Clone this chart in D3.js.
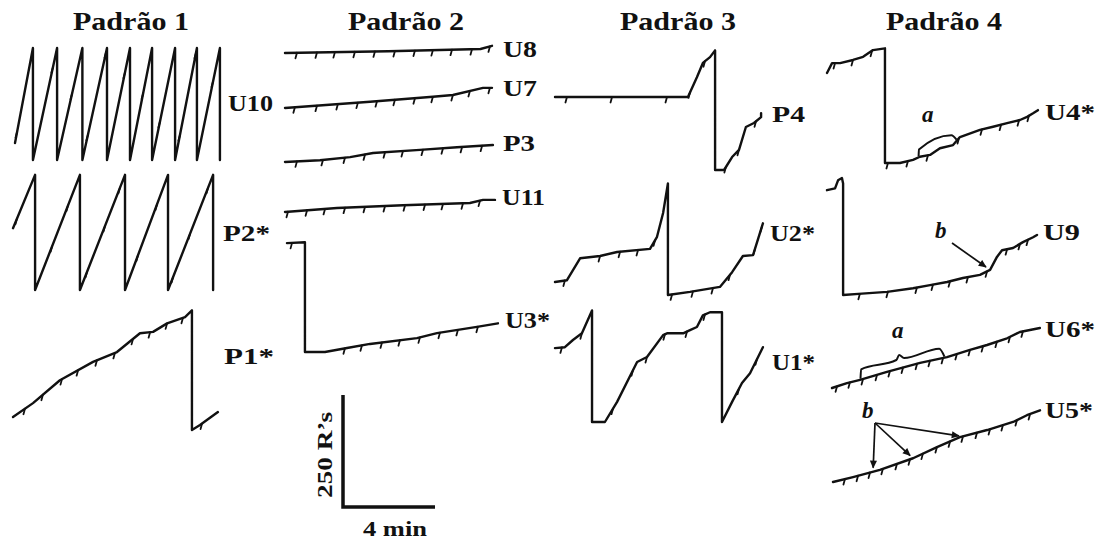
<!DOCTYPE html>
<html><head><meta charset="utf-8">
<script src="https://cdn.jsdelivr.net/npm/d3@7"></script>
<style>body{margin:0;background:#fff}svg{display:block}</style>
</head><body>
<svg id="chart" width="1099" height="540"></svg>
<script>
// Cumulative records: [minutes, cumulative responses since last pen reset].
// Equal consecutive times mark the vertical pen reset.
const U10 = [[0,38],[0.78,250],[0.78,0],[1.83,250],[1.83,0],[2.93,250],[2.93,0],[4.0,250],[4.0,0],[5.0,250],[5.0,0],[5.96,250],[5.96,0],[6.96,250],[6.96,0],[7.91,250],[7.91,0],[8.91,250],[8.91,0]];
const U10_sr = [0.09,1.65,2.48,3.17,3.96,4.78,5.57,6.30,7.17,7.87,8.61];
const P2 = [[0,138],[0.96,257],[0.96,0],[2.91,257],[2.91,0],[4.87,257],[4.87,0],[6.74,257],[6.74,0],[8.70,257],[8.70,0]];
const P2_sr = [0.17,1.70,2.39,3.22,4.0,4.65,5.43,6.26,6.96,7.70,8.48];
const P1 = [[0,29],[0.87,60],[2.04,111],[3.48,152],[4.52,174],[5.52,216],[6.09,219],[6.70,238],[7.48,252],[7.78,267],[7.78,0],[8.13,11],[8.91,40]];
const P1_sr = [0.52,1.30,2.13,2.83,3.65,4.43,5.22,5.96,6.70,7.39,8.22];

const U8 = [[0,0],[4.5,4],[8.5,9],[9.0,16]];
const U8_sr = [0.52,1.39,2.17,3.04,3.91,4.78,5.65,6.43,7.26,8.13,8.91];
const U7 = [[0,0],[3.70,14],[6.43,25],[7.30,29],[8.61,45],[9.0,45]];
const U7_sr = [0.43,1.39,2.30,3.17,4.0,4.78,5.65,6.43,7.30,8.04,8.91];
const P3 = [[0,0],[1.52,4],[2.83,11],[3.83,20],[5.87,27],[7.48,33],[9.04,38]];
const P3_sr = [0.52,1.65,2.61,3.48,4.35,5.13,6.0,6.87,7.70,8.57];
const U11 = [[0,0],[2.26,9],[5.13,15],[8.04,20],[8.61,27],[9.13,27]];
const U11_sr = [0.13,0.96,1.74,2.61,3.48,4.35,5.22,6.09,6.87,7.74,8.48];
const U3 = [[0,243],[0.78,245],[0.78,0],[1.65,0],[2.61,9],[3.61,18],[5.65,31],[6.52,42],[8.26,56],[9.17,64]];
const U3_sr = [0.22,2.52,3.26,4.13,4.91,5.78,6.65,7.43,8.30];

const P4 = [[0,163],[5.78,163],[6.17,207],[6.43,239],[6.74,252],[6.96,267],[6.96,0],[7.35,0],[7.70,29],[8.0,45],[8.30,96],[8.65,105],[8.96,118],[8.96,127]];
const P4_sr = [0.52,2.48,4.87,5.87,6.52,7.43,8.0,8.74];
const U2 = [[0,29],[0.52,33],[1.09,82],[1.96,87],[2.70,96],[4.13,103],[4.43,129],[4.70,183],[4.91,249],[4.91,0],[5.87,7],[7.17,18],[7.70,51],[8.17,87],[8.61,89],[9.04,160]];
const U2_sr = [0.43,1.96,2.83,3.61,4.35,5.09,6.0,6.87,7.61,8.70,9.0];
const U1 = [[0,165],[0.43,167],[0.78,183],[1.17,198],[1.61,249],[1.61,0],[2.17,0],[2.70,45],[3.57,134],[4.0,145],[4.70,194],[4.87,198],[5.57,198],[5.87,205],[6.17,212],[6.43,238],[6.74,245],[7.26,245],[7.26,0],[7.70,45],[8.13,87],[8.48,109],[9.04,167]];
const U1_sr = [0.30,1.17,2.52,3.39,4.0,4.78,5.74,6.52,8.0,8.78];

const U4 = [[0,201],[0.22,223],[0.57,223],[1.13,230],[1.57,237],[2.0,252],[2.52,256],[2.52,0],[3.17,0],[3.74,7],[4.04,14],[4.48,18],[4.91,33],[5.48,40],[5.78,58],[6.65,74],[7.22,81],[7.83,89],[8.39,96],[8.70,103],[8.96,111],[9.17,118]];
const U4_sr = [0.35,1.13,1.96,2.65,3.52,4.39,5.74,6.74,7.57,8.35,8.78];
const U9 = [[0,234],[0.35,238],[0.48,256],[0.65,261],[0.70,249],[0.70,0],[1.52,3],[2.61,7],[3.74,15],[4.48,22],[5.22,29],[5.91,38],[6.65,45],[7.09,56],[7.39,85],[7.61,100],[8.09,105],[8.52,118],[8.96,129],[9.13,134]];
const U9_sr = [1.43,2.65,3.91,4.61,5.35,6.13,6.96,7.83,8.39,8.74];
const U6 = [[0,0],[0.65,11],[1.22,18],[2.39,36],[3.83,56],[5.0,69],[6.0,85],[6.74,96],[7.61,111],[8.17,125],[9.04,134]];
const U6_sr = [0.22,0.78,1.35,1.96,2.52,3.09,3.70,4.26,4.83,5.43,6.0,6.57,7.17,7.74,8.30];
const U5 = [[0,0],[0.87,11],[2.04,27],[3.48,53],[4.52,78],[5.52,100],[6.70,116],[7.83,134],[8.43,149],[9.0,160]];
const U5_sr = [0.52,1.09,1.61,2.17,2.78,3.35,3.91,4.52,5.09,5.65,6.26,6.83,7.39,8.0,8.57];

const panelTitles = ["Padrão 1","Padrão 2","Padrão 3","Padrão 4"];
const scaleMinutes = 4, scaleResponses = 250;

// sheet placement of each record (left edge, pen baseline) and its label
const records = [
  {name:"U10", pts:U10, sr:U10_sr, at:[15,160], lab:[228,111,45]},
  {name:"P2*", pts:P2,  sr:P2_sr,  at:[13,290], lab:[223,241,47]},
  {name:"P1*", pts:P1,  sr:P1_sr,  at:[13,430], lab:[224,364,50]},
  {name:"U8",  pts:U8,  sr:U8_sr,  at:[285,53], lab:[503,57,34]},
  {name:"U7",  pts:U7,  sr:U7_sr,  at:[285,108],lab:[503,96,34]},
  {name:"P3",  pts:P3,  sr:P3_sr,  at:[285,162],lab:[503,151,32]},
  {name:"U11", pts:U11, sr:U11_sr, at:[285,212],lab:[502,205,43]},
  {name:"U3*", pts:U3,  sr:U3_sr,  at:[287,352],lab:[505,328,45]},
  {name:"P4",  pts:P4,  sr:P4_sr,  at:[555,170],lab:[772,122,33]},
  {name:"U2*", pts:U2,  sr:U2_sr,  at:[555,295],lab:[770,241,45]},
  {name:"U1*", pts:U1,  sr:U1_sr,  at:[555,422],lab:[772,370,43]},
  {name:"U4*", pts:U4,  sr:U4_sr,  at:[827,163],lab:[1045,120,50]},
  {name:"U9",  pts:U9,  sr:U9_sr,  at:[827,295],lab:[1043,240,37]},
  {name:"U6*", pts:U6,  sr:U6_sr,  at:[832,388],lab:[1045,337,50]},
  {name:"U5*", pts:U5,  sr:U5_sr,  at:[833,482],lab:[1045,418,48]}
];
const titlePos = [[131,30],[406,30],[678,30],[944,30]];

const svg = d3.select("#chart");
const x = d3.scaleLinear().domain([0, scaleMinutes]).range([0, 92]);
const y = d3.scaleLinear().domain([0, scaleResponses]).range([0, -112]);
const line = d3.line().x(d => x(d[0])).y(d => y(d[1]));
const serif = "Liberation Serif";

svg.append("defs").append("marker")
  .attr("id","head").attr("viewBox","0 0 10 10").attr("refX",9).attr("refY",5)
  .attr("markerWidth",9).attr("markerHeight",8).attr("markerUnits","userSpaceOnUse")
  .attr("orient","auto")
  .append("path").attr("d","M0,0.5L10,5L0,9.5z").attr("fill","#111");

// value of the record at time t (first non-vertical segment containing t)
function at(pts, t) {
  for (let i = 0; i < pts.length - 1; i++) {
    const a = pts[i], b = pts[i+1];
    if (b[0] > a[0] && t >= a[0] && t <= b[0]) return a[1] + (b[1]-a[1])*(t-a[0])/(b[0]-a[0]);
  }
  return pts[pts.length-1][1];
}

const groups = {};
records.forEach(r => {
  const g = svg.append("g").attr("transform", `translate(${r.at[0]},${r.at[1]})`);
  groups[r.name] = g;
  g.append("path").datum(r.pts).attr("d", line)
    .attr("fill","none").attr("stroke","#111").attr("stroke-width",2.4)
    .attr("stroke-linejoin","round").attr("stroke-linecap","round");
  g.selectAll("line.sr").data(r.sr).join("line").attr("class","sr")
    .attr("x1", t => x(t)).attr("y1", t => y(at(r.pts,t)))
    .attr("x2", t => x(t) - 1.5).attr("y2", t => y(at(r.pts,t)) + 5.5)
    .attr("stroke","#111").attr("stroke-width",1.8).attr("stroke-linecap","round");
  svg.append("text").attr("x", r.lab[0]).attr("y", r.lab[1])
    .attr("textLength", r.lab[2]).attr("lengthAdjust","spacingAndGlyphs")
    .attr("font-family", serif).attr("font-weight","bold").attr("font-size",23)
    .attr("fill","#111").text(r.name);
});

panelTitles.forEach((t,i) => {
  svg.append("text").attr("x", titlePos[i][0]).attr("y", titlePos[i][1])
    .attr("text-anchor","middle").attr("textLength",116).attr("lengthAdjust","spacingAndGlyphs")
    .attr("font-family", serif).attr("font-weight","bold").attr("font-size",25)
    .attr("fill","#111").text(t);
});

// bracket over a stretch of a record; bump > 0 adds the curly-brace point
function brace(name, pts, t1, t2, h, bump) {
  const g = groups[name];
  const p1 = [x(t1), y(at(pts,t1))], p2 = [x(t2), y(at(pts,t2))];
  const dx = p2[0]-p1[0], dy = p2[1]-p1[1], L = Math.hypot(dx,dy);
  const d = [dx/L, dy/L], n = [d[1], -d[0]];
  const P = (p, a, b) => [p[0] + d[0]*a + n[0]*b, p[1] + d[1]*a + n[1]*b];
  const m = [(p1[0]+p2[0])/2, (p1[1]+p2[1])/2];
  const pts2 = bump > 0
    ? [P(p1,0,1), P(p1,3,h), P(m,-4,h), P(m,0,h+bump), P(m,4,h), P(p2,-3,h), P(p2,0,1)]
    : [P(p1,0,1), P(p1,3,h), P(p2,-3,h), P(p2,0,1)];
  g.append("path").attr("d", d3.line().curve(d3.curveMonotoneX)(pts2))
    .attr("fill","none").attr("stroke","#111").attr("stroke-width",2);
}
brace("U4*", U4, 4.0, 5.65, 7, 0);
brace("U6*", U6, 1.25, 4.9, 10, 4);

// arrows from a letter to points on a record
function arrow(name, pts, from, t, gap) {
  const r = records.find(q => q.name === name);
  const tx = r.at[0] + x(t), ty = r.at[1] + y(at(pts,t));
  const dx = tx-from[0], dy = ty-from[1], L = Math.hypot(dx,dy);
  svg.append("line").attr("x1",from[0]).attr("y1",from[1])
    .attr("x2", tx - dx/L*gap).attr("y2", ty - dy/L*gap)
    .attr("stroke","#111").attr("stroke-width",1.7).attr("marker-end","url(#head)");
}
arrow("U9", U9, [952,243], 7.09, 5);
[1.74, 3.48, 5.65].forEach(t => arrow("U5*", U5, [875,423], t, 4));

const letters = [["a",922,122],["a",892,338],["b",935,238],["b",862,418]];
letters.forEach(l => svg.append("text").attr("x",l[1]).attr("y",l[2])
  .attr("font-family",serif).attr("font-style","italic").attr("font-weight","bold")
  .attr("font-size",23).attr("fill","#111").text(l[0]));

// calibration bar
const bar = svg.append("g").attr("transform","translate(343,507)");
bar.append("path")
  .attr("d", `M${x(0)},${y(scaleResponses)}V${y(0)}H${x(scaleMinutes)}`)
  .attr("fill","none").attr("stroke","#111").attr("stroke-width",3.5);
bar.append("text").attr("transform",`translate(-11,${y(scaleResponses/2)+4}) rotate(-90)`)
  .attr("text-anchor","middle").attr("textLength",86).attr("lengthAdjust","spacingAndGlyphs")
  .attr("font-family",serif).attr("font-weight","bold").attr("font-size",22)
  .attr("fill","#111").text(`${scaleResponses} R’s`);
bar.append("text").attr("x", x(scaleMinutes/2)+6).attr("y", 29)
  .attr("text-anchor","middle").attr("textLength",64).attr("lengthAdjust","spacingAndGlyphs")
  .attr("font-family",serif).attr("font-weight","bold").attr("font-size",22)
  .attr("fill","#111").text(`${scaleMinutes} min`);
</script>
</body></html>
